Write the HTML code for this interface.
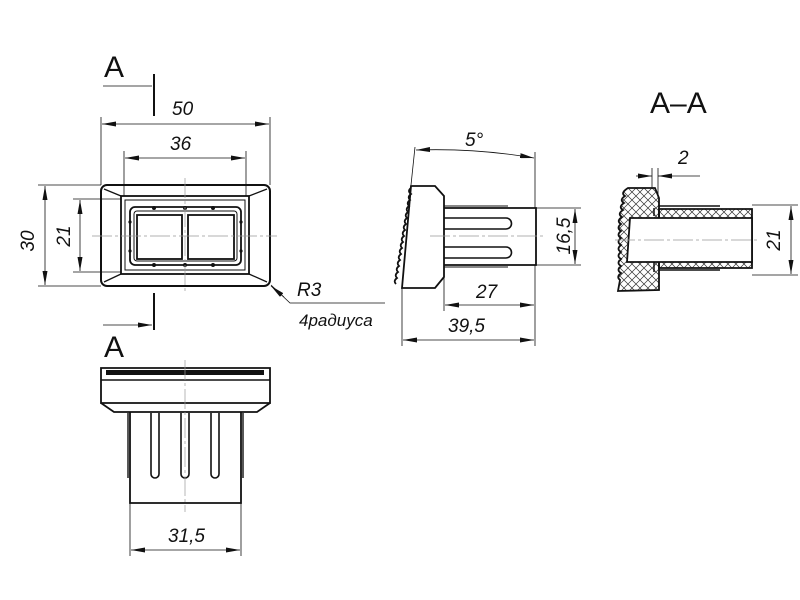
<!DOCTYPE html>
<html><head><meta charset="utf-8"><style>
html,body{margin:0;padding:0;background:#fff;}
svg{display:block;}
text{font-family:"Liberation Sans",sans-serif;font-style:italic;fill:#111;}
</style></head><body>
<svg width="800" height="600" viewBox="0 0 800 600" xmlns="http://www.w3.org/2000/svg">
<defs>
<marker id="ar" viewBox="0 0 14 5" refX="14" refY="2.5" markerWidth="14" markerHeight="5" orient="auto-start-reverse" markerUnits="userSpaceOnUse"><path d="M0,0 L14,2.5 L0,5 Z" fill="#111"/></marker>
<pattern id="hx" width="8" height="8" patternUnits="userSpaceOnUse"><path d="M0,0 L8,8 M8,0 L0,8" stroke="#333" stroke-width="0.7"/></pattern>
</defs>
<g fill="none" stroke="#111">
<!-- FRONT VIEW -->
<rect x="101" y="185" width="169" height="101" rx="6" stroke-width="2"/>
<rect x="121" y="196" width="128" height="78" stroke-width="1.8"/>
<rect x="125" y="200" width="120" height="70" stroke-width="1"/>
<path d="M104,189 L121,196 M267,189 L249,196 M104,282 L121,274 M267,282 L249,274" stroke-width="1.3"/>
<rect x="130" y="207" width="111" height="58" rx="5" stroke-width="1.8"/>
<rect x="134" y="211" width="103" height="50" rx="3" stroke-width="1"/>
<rect x="137" y="215" width="45" height="44" stroke-width="1.8"/>
<rect x="188" y="215" width="46" height="44" stroke-width="1.8"/>
<g fill="#111" stroke="none"><circle cx="154" cy="208" r="2"/><circle cx="185" cy="208" r="2"/><circle cx="213" cy="208" r="2"/><circle cx="154" cy="265" r="2"/><circle cx="185" cy="265" r="2"/><circle cx="213" cy="265" r="2"/><circle cx="130" cy="222" r="1.6"/><circle cx="130" cy="251" r="1.6"/><circle cx="241" cy="222" r="1.6"/><circle cx="241" cy="251" r="1.6"/></g>
<path d="M185,178 V293 M92,236 H277" stroke="#999" stroke-width="0.7" stroke-dasharray="20,3,3,3"/>
<g stroke-width="0.8">
<path d="M101,185 V117 M270,185 V117" />
<path d="M102,124 H269" marker-start="url(#ar)" marker-end="url(#ar)"/>
<path d="M124,196 V151 M246,196 V151"/>
<path d="M125,158 H245" marker-start="url(#ar)" marker-end="url(#ar)"/>
<path d="M101,185 H38 M101,286 H38"/>
<path d="M45,186 V285" marker-start="url(#ar)" marker-end="url(#ar)"/>
<path d="M121,199 H73 M121,272 H73"/>
<path d="M80,200 V271" marker-start="url(#ar)" marker-end="url(#ar)"/>
<path d="M271,285 L290,303 H385"/>
</g>
<path d="M284,297 L271,286" stroke-width="0.8" marker-end="url(#ar)"/>
<path d="M154,74 V116 M154,293 V330" stroke-width="2"/>
<path d="M103,86 H152 M103,325 H152" stroke-width="0.8" marker-end="url(#ar)"/>

<!-- SIDE VIEW -->
<path d="M411,186 L435,186 L444,196 L444,277 L435,288 L402,288 Z" stroke-width="1.8"/>
<path d="M411,188 q-4,3 0,6 q-4,3 -1,6 q-4,3 -1,6 q-4,3 -1,6 q-4,3 -1,6 q-4,3 -1,6 q-4,3 -1,6 q-4,3 -1,6 q-4,3 -1,6 q-4,3 -1,6 q-4,3 -1,6 q-4,3 -1,6 q-4,3 -1,6 q-4,3 -1,6 q-4,3 -1,6 q-4,3 -1,6" stroke-width="1.8"/>
<path d="M444,208 H536 V265 H444" stroke-width="1.8"/>
<path d="M444,206 H508 M444,267 H508" stroke-width="1"/>
<path d="M444,218 H506 a5.5,5.5 0 0 1 0,11 H444 M444,247 H506 a5.5,5.5 0 0 1 0,11 H444" stroke-width="1.6"/>
<path d="M430,236 H545" stroke="#999" stroke-width="0.7" stroke-dasharray="20,3,3,3"/>
<g stroke-width="0.8">
<path d="M411,185 L415,147 M535,208 V152"/>
<path d="M416,150 Q476,148 534,158" marker-start="url(#ar)" marker-end="url(#ar)"/>
<path d="M536,208 H581 M536,265 H581"/>
<path d="M575,209 V264" marker-start="url(#ar)" marker-end="url(#ar)"/>
<path d="M444,267 V311 M535,265 V346 M402,288 V346"/>
<path d="M445,305 H534" marker-start="url(#ar)" marker-end="url(#ar)"/>
<path d="M403,340 H534" marker-start="url(#ar)" marker-end="url(#ar)"/>
</g>

<!-- SECTION A-A -->
<path d="M628,188 L655,188 L659,198 L659,290 L618,291 L620,280 Q616,277 621,273 Q616,270 621,266 Q616,263 621,259 Q616,256 621,252 Q616,249 621,245 Q616,242 621,238 Q616,235 621,231 Q616,228 621,224 Q616,221 622,217 Q617,214 623,210 Q618,207 624,203 Q619,200 625,196 Q620,193 628,188 Z" fill="url(#hx)" stroke-width="1.8"/>
<path d="M659,209 H752 V268 H659 Z" fill="url(#hx)" stroke-width="1.8"/>
<path d="M630,218 H752 V262 H627 Z" fill="#fff" stroke-width="1.8"/>
<path d="M654,208 V216 M654,262 V272 M659,206 H720 M659,270 H720" stroke-width="1.5"/>
<path d="M615,240 H760" stroke="#999" stroke-width="0.7" stroke-dasharray="20,3,3,3"/>
<g stroke-width="0.8">
<path d="M652,188 V168 M658,198 V168 M673,176 H700"/>
<path d="M636,176 H652" marker-end="url(#ar)"/>
<path d="M673,176 H658" marker-end="url(#ar)"/>
<path d="M752,205 H798 M752,275 H798"/>
<path d="M791,206 V274" marker-start="url(#ar)" marker-end="url(#ar)"/>
</g>

<!-- BOTTOM VIEW -->
<rect x="106" y="370" width="158" height="5" fill="#111" stroke="none"/>
<path d="M101,368 H270 V403 H101 Z" stroke-width="1.8"/>
<path d="M101,380 H270" stroke-width="1.4"/>
<path d="M101,403 L114,412 H257 L270,403" stroke-width="1.8"/>
<path d="M130,412 V503 H241 V412" stroke-width="1.8"/>
<path d="M128,413 V478 M243,413 V478" stroke-width="1.4"/>
<path d="M151,413 V474 a4,4 0 0 0 8,0 V413 M181,413 V474 a4,4 0 0 0 8,0 V413 M211,413 V474 a4,4 0 0 0 8,0 V413" stroke-width="1.6"/>
<path d="M185,360 V512" stroke="#999" stroke-width="0.7" stroke-dasharray="20,3,3,3"/>
<g stroke-width="0.8">
<path d="M130,503 V556 M241,503 V556"/>
<path d="M131,550 H240" marker-start="url(#ar)" marker-end="url(#ar)"/>
</g>
</g>
<g font-size="19">
<text x="172" y="115">50</text>
<text x="170" y="150">36</text>
<text x="29" y="236" transform="rotate(-90 34 236)" text-anchor="middle">30</text>
<text x="70" y="236" transform="rotate(-90 70 236)" text-anchor="middle">21</text>
<text x="297" y="296">R3</text>
<text x="299" y="326" font-size="17">4радиуса</text>
<text x="465" y="146">5°</text>
<text x="570" y="236" transform="rotate(-90 570 236)" text-anchor="middle">16,5</text>
<text x="476" y="298">27</text>
<text x="448" y="332">39,5</text>
<text x="678" y="164">2</text>
<text x="780" y="240" transform="rotate(-90 780 240)" text-anchor="middle">21</text>
<text x="168" y="542">31,5</text>
</g>
<g font-size="30">
<text x="104" y="77" style="font-style:normal">A</text>
<text x="104" y="357" style="font-style:normal">A</text>
<text x="650" y="113" style="font-style:normal">A–A</text>
</g>
</svg>
</body></html>
